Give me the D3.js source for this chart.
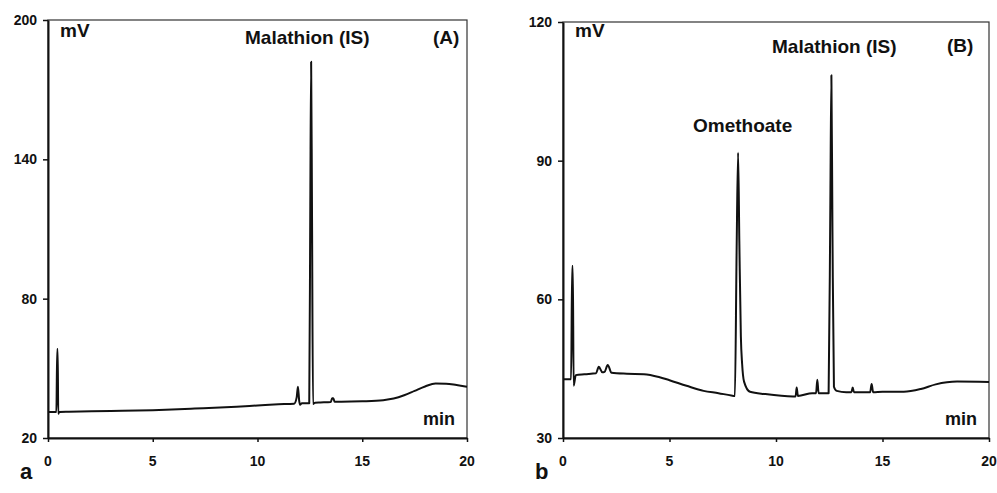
<!DOCTYPE html>
<html>
<head>
<meta charset="utf-8">
<title>Chromatograms</title>
<script src="https://d3js.org/d3.v7.min.js"></script>
<style>
  body { margin: 0; background: #fff; }
  svg { display: block; }
  text { font-family: Arial, "Liberation Sans", Helvetica, sans-serif; font-weight: bold; fill: #111; }
</style>
</head>
<body>
<script>
// x axis ticks shared by both chromatograms (min)
var xTicks = [0, 5, 10, 15, 20];

// Panel A : blank (IS only)
var yTicksA = [20, 80, 140, 200];
var timesA  = [0, 0.40, 0.44, 0.46, 0.49, 0.53, 1, 3, 5, 7, 9, 10, 11, 11.75, 11.87, 11.93, 11.99, 12.03, 12.12, 12.47, 12.52, 12.56, 12.60, 12.65, 12.75, 13.0, 13.50, 13.56, 13.62, 13.68, 14, 15, 16, 16.5, 17, 17.5, 18, 18.5, 19, 19.5, 20];
var signalA = [31.2, 31.2, 58.3, 58.3, 30.4, 31.2, 31.3, 31.6, 32.0, 32.7, 33.5, 34.0, 34.5, 34.8, 37.5, 42.1, 36.0, 34.3, 35.0, 35.0, 120, 182, 120, 34.6, 35.2, 35.3, 35.5, 37.1, 37.1, 35.6, 35.6, 35.8, 36.3, 37.0, 38.4, 40.3, 42.2, 43.5, 43.4, 42.8, 42.1];

// Panel B : spiked sample
var yTicksB = [30, 60, 90, 120];
var timesB  = [0, 0.38, 0.43, 0.46, 0.50, 0.60, 1.0, 1.55, 1.68, 1.85, 1.95, 2.10, 2.28, 3.0, 3.8, 4.5, 5.0, 5.8, 6.6, 7.3, 7.9, 8.07, 8.15, 8.22, 8.28, 8.35, 8.41, 8.50, 8.78, 9.5, 10.8, 10.92, 10.97, 11.03, 11.7, 11.88, 11.94, 12.0, 12.47, 12.55, 12.60, 12.65, 12.72, 12.85, 13.3, 13.54, 13.60, 13.66, 14.42, 14.49, 14.56, 15, 16, 16.8, 17.5, 18.5, 20];
var signalB = [42.7, 42.7, 67.2, 67.2, 41.3, 43.6, 43.8, 44.0, 45.4, 44.2, 44.3, 45.8, 44.1, 43.9, 43.8, 43.2, 42.5, 41.3, 40.2, 39.7, 39.2, 39.1, 70, 91.7, 72, 52, 46, 42.2, 40.0, 39.5, 39.0, 39.0, 40.9, 39.1, 39.7, 39.7, 42.6, 39.7, 39.7, 80, 108.5, 75, 41.1, 40.2, 39.9, 39.9, 40.9, 39.9, 39.9, 41.7, 39.9, 40.0, 40.0, 40.6, 41.6, 42.2, 42.1];

var panels = [
  { left: 48, right: 467, top: 20, bottom: 438, yTicks: yTicksA, times: timesA, signal: signalA,
    letter: "a", tag: "(A)", tagX: 433, tagY: 44,
    peaks: [{ text: "Malathion (IS)", x: 245, y: 44 }] },
  { left: 563, right: 989, top: 22, bottom: 438, yTicks: yTicksB, times: timesB, signal: signalB,
    letter: "b", tag: "(B)", tagX: 947, tagY: 52,
    peaks: [{ text: "Omethoate", x: 693, y: 132 }, { text: "Malathion (IS)", x: 772, y: 53 }] }
];

var svg = d3.select("body").append("svg")
    .attr("width", 997)
    .attr("height", 493);

panels.forEach(function(p) {
  var x = d3.scaleLinear().domain([0, 20]).range([p.left, p.right]);
  var y = d3.scaleLinear().domain(d3.extent(p.yTicks)).range([p.bottom, p.top]);

  var g = svg.append("g");

  // frame
  g.append("rect")
    .attr("x", p.left).attr("y", p.top)
    .attr("width", p.right - p.left).attr("height", p.bottom - p.top)
    .attr("fill", "none").attr("stroke", "#333").attr("stroke-width", 1.2);

  var yAxis = g.append("g")
    .attr("transform", "translate(" + p.left + ",0)")
    .call(d3.axisLeft(y).tickValues(p.yTicks).tickSize(5).tickSizeOuter(0).tickFormat(""));

  var xAxis = g.append("g")
    .attr("transform", "translate(0," + p.bottom + ")")
    .call(d3.axisBottom(x).tickValues(xTicks).tickSize(4).tickSizeOuter(0).tickFormat(""));

  [yAxis, xAxis].forEach(function(a) {
    a.select(".domain").attr("stroke", "#111").attr("stroke-width", 2);
    a.selectAll(".tick line").attr("stroke", "#111").attr("stroke-width", 1.5);
  });

  // tick labels, bold
  g.selectAll(".ylab").data(p.yTicks).join("text")
    .attr("class", "ylab")
    .attr("x", p.left - 11)
    .attr("y", function(d) { return y(d) + 5; })
    .attr("text-anchor", "end")
    .style("font-size", "14px")
    .text(function(d) { return d; });

  g.selectAll(".xlab").data(xTicks).join("text")
    .attr("class", "xlab")
    .attr("x", function(d) { return x(d); })
    .attr("y", p.bottom + 28)
    .attr("text-anchor", "middle")
    .style("font-size", "14px")
    .text(function(d) { return d; });

  // trace
  var line = d3.line()
    .x(function(d, i) { return x(p.times[i]); })
    .y(function(d) { return y(d); })
    .curve(d3.curveMonotoneX);

  g.append("path")
    .datum(p.signal)
    .attr("d", line)
    .attr("fill", "none")
    .attr("stroke", "#111")
    .attr("stroke-width", 2)
    .attr("stroke-linejoin", "round");

  // labels
  g.append("text").attr("x", p.left + 12).attr("y", 37)
    .style("font-size", "19px").text("mV");
  g.append("text").attr("x", p.right - 44).attr("y", 425)
    .style("font-size", "18px").text("min");
  g.append("text").attr("x", p.tagX).attr("y", p.tagY)
    .style("font-size", "19px").text(p.tag);
  p.peaks.forEach(function(k) {
    g.append("text").attr("x", k.x).attr("y", k.y)
      .style("font-size", "19px").text(k.text);
  });
  g.append("text").attr("x", p.left - 28).attr("y", 479)
    .style("font-size", "22px").text(p.letter);
});
</script>
</body>
</html>
